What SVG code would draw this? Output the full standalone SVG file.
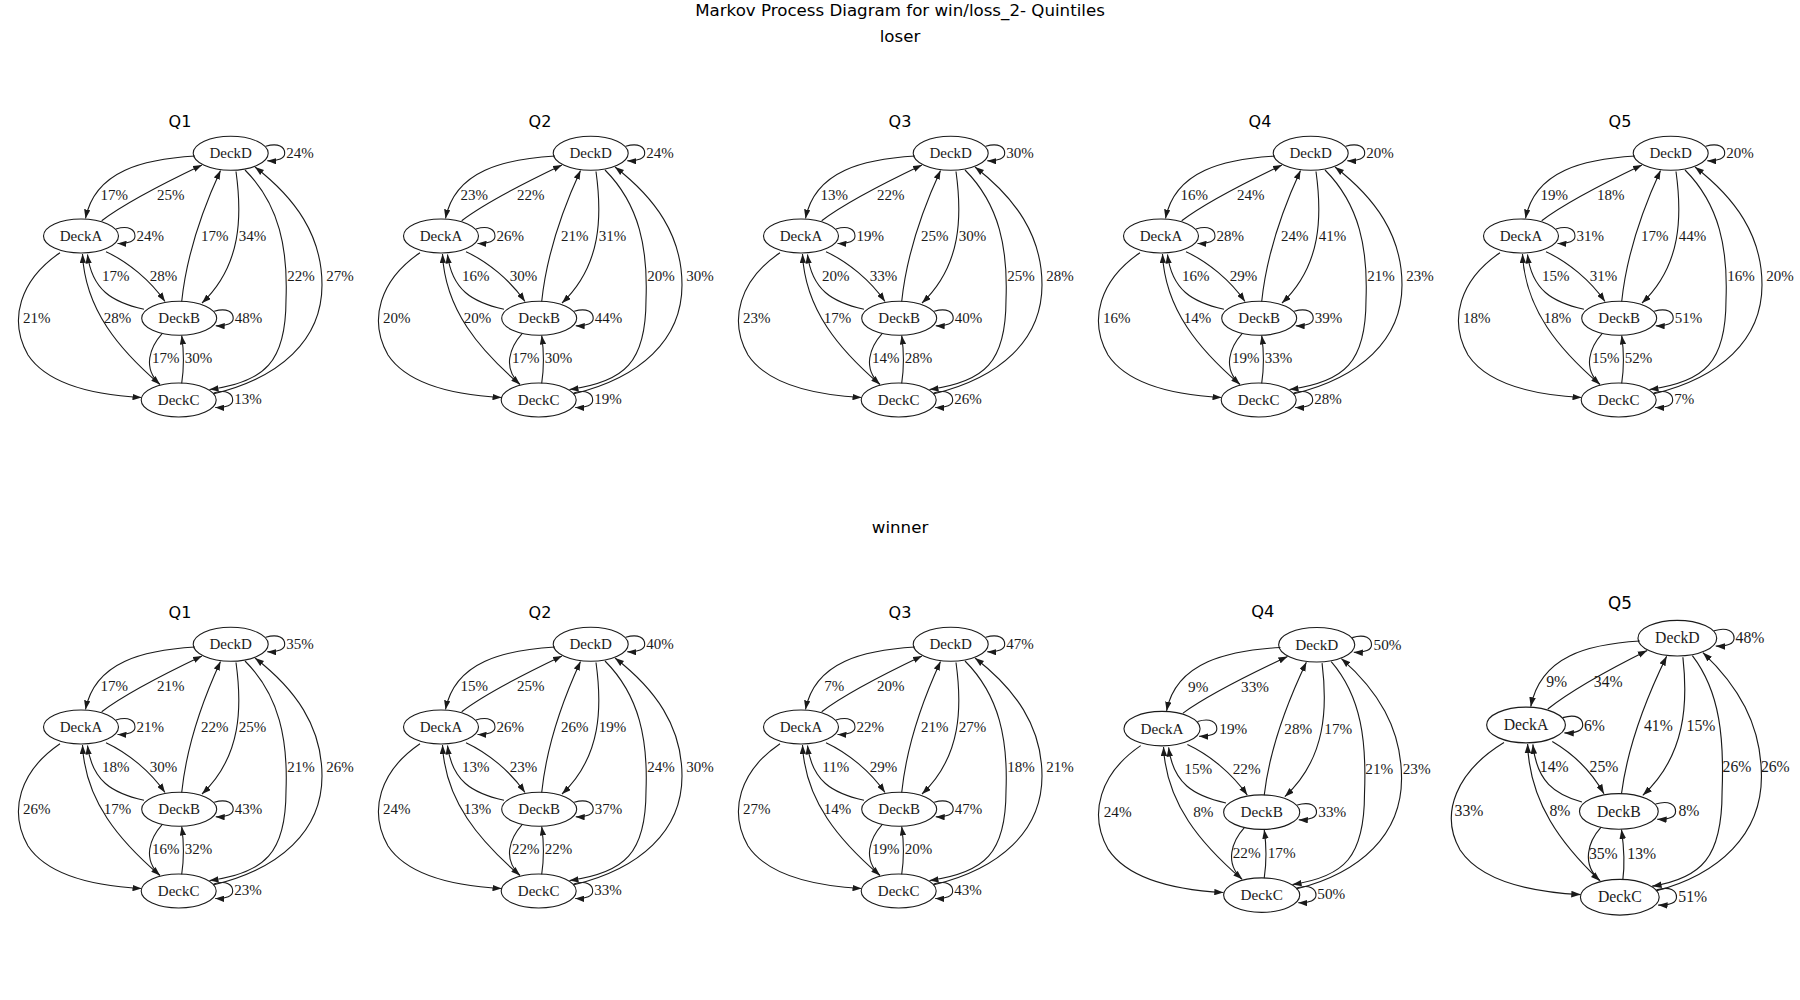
<svg xmlns="http://www.w3.org/2000/svg" width="1800" height="1000" viewBox="0 0 1800 1000">
<style>
.e{fill:none;stroke:#1a1a1a;stroke-width:1.1;marker-end:url(#ah)}
.node ellipse{fill:none;stroke:#1a1a1a;stroke-width:1.1}
.lb{font-family:"Liberation Serif","Times New Roman",serif;font-size:15px;fill:#1a1a1a;text-anchor:middle}
.ll{font-family:"Liberation Serif","Times New Roman",serif;font-size:15px;fill:#1a1a1a;text-anchor:start}
.qt{font-family:"DejaVu Sans",sans-serif;font-size:16px;fill:#000;text-anchor:middle}
.st{font-family:"DejaVu Sans",sans-serif;font-size:16.67px;fill:#000;text-anchor:middle}
</style>
<defs>
<marker id="ah" viewBox="0 0 10 7" refX="10" refY="3.5" markerWidth="9" markerHeight="6.5" markerUnits="userSpaceOnUse" orient="auto"><path d="M0,0 L10,3.5 L0,7z" fill="#1a1a1a"/></marker>
</defs>
<rect width="1800" height="1000" fill="#fff"/>
<text class="st" x="900" y="16">Markov Process Diagram for win/loss_2- Quintiles</text>
<text class="st" x="900" y="42">loser</text>
<text class="st" x="900" y="533">winner</text>

<g id="loser-q1" transform="translate(0,0)">
<text class="qt" x="180" y="127">Q1</text>
<g class="connectors">
<path class="e" d="M195,156 C145,159 95,170 85.5,218.5"/>
<path class="e" d="M101.7,220.7 C125,203 160,185 202,165"/>
<path class="e" d="M265.7,146.3 C278.7,142.3 284.7,147.3 284.7,153.3 C284.7,158.3 278.7,161.3 267.2,160.8"/>
<path class="e" d="M116,229 C129,225 135,230 135,236 C135,241 129,244 117.5,243.5"/>
<path class="e" d="M106,251.7 C128,262 150,280 165,301.5"/>
<path class="e" d="M144,309.3 C112,302 92,290 87.5,254.5"/>
<path class="e" d="M181.7,301.5 C186,260 200,215 220.5,170.5"/>
<path class="e" d="M236,171.5 C242,215 242,265 202,303"/>
<path class="e" d="M245,170 C280,205 288,250 286,300 C286,362 265,382 209.5,389.5"/>
<path class="e" d="M213,394 C280,378 322,340 322,285 C322,235 295,198 255,167"/>
<path class="e" d="M60,252.7 C20,280 8,320 28,355 C48,385 95,395 141.5,397.5"/>
<path class="e" d="M159.3,384 C120,350 85,310 82.5,254"/>
<path class="e" d="M214.2,311.3 C227.2,307.3 233.2,312.3 233.2,318.3 C233.2,323.3 227.2,326.3 215.7,325.8"/>
<path class="e" d="M162.3,333.3 C150,347 142,368 160,384.5"/>
<path class="e" d="M181.7,383.3 C184,368 184,352 181.7,335.5"/>
<path class="e" d="M213.7,393 C226.7,389 232.7,394 232.7,400 C232.7,405 226.7,408 215.2,407.5"/>
<text class="lb" x="114.2" y="200">17%</text>
<text class="lb" x="170.8" y="200">25%</text>
<text class="ll" x="286.2" y="158.3">24%</text>
<text class="ll" x="136.5" y="241.3">24%</text>
<text class="lb" x="163.5" y="281">28%</text>
<text class="lb" x="115.8" y="281">17%</text>
<text class="lb" x="214.7" y="241.3">17%</text>
<text class="lb" x="252.5" y="241.3">34%</text>
<text class="lb" x="301" y="281">22%</text>
<text class="lb" x="340" y="281">27%</text>
<text class="lb" x="36.8" y="322.7">21%</text>
<text class="lb" x="117.5" y="322.7">28%</text>
<text class="ll" x="234.7" y="322.7">48%</text>
<text class="lb" x="165.8" y="363.3">17%</text>
<text class="lb" x="198.5" y="363.3">30%</text>
<text class="ll" x="234.2" y="404.3">13%</text>
</g>
<g id="loser-q1-deckD" class="node"><ellipse cx="230.7" cy="153.3" rx="37.5" ry="17"/><text class="lb" x="230.7" y="158.3">DeckD</text></g>
<g id="loser-q1-deckA" class="node"><ellipse cx="81" cy="236" rx="37.5" ry="17"/><text class="lb" x="81" y="241">DeckA</text></g>
<g id="loser-q1-deckB" class="node"><ellipse cx="179.2" cy="318.3" rx="37.5" ry="17"/><text class="lb" x="179.2" y="323.3">DeckB</text></g>
<g id="loser-q1-deckC" class="node"><ellipse cx="178.7" cy="400" rx="37.5" ry="17"/><text class="lb" x="178.7" y="405">DeckC</text></g>
</g>

<g id="loser-q2" transform="translate(360,0)">
<text class="qt" x="180" y="127">Q2</text>
<g class="connectors">
<path class="e" d="M195,156 C145,159 95,170 85.5,218.5"/>
<path class="e" d="M101.7,220.7 C125,203 160,185 202,165"/>
<path class="e" d="M265.7,146.3 C278.7,142.3 284.7,147.3 284.7,153.3 C284.7,158.3 278.7,161.3 267.2,160.8"/>
<path class="e" d="M116,229 C129,225 135,230 135,236 C135,241 129,244 117.5,243.5"/>
<path class="e" d="M106,251.7 C128,262 150,280 165,301.5"/>
<path class="e" d="M144,309.3 C112,302 92,290 87.5,254.5"/>
<path class="e" d="M181.7,301.5 C186,260 200,215 220.5,170.5"/>
<path class="e" d="M236,171.5 C242,215 242,265 202,303"/>
<path class="e" d="M245,170 C280,205 288,250 286,300 C286,362 265,382 209.5,389.5"/>
<path class="e" d="M213,394 C280,378 322,340 322,285 C322,235 295,198 255,167"/>
<path class="e" d="M60,252.7 C20,280 8,320 28,355 C48,385 95,395 141.5,397.5"/>
<path class="e" d="M159.3,384 C120,350 85,310 82.5,254"/>
<path class="e" d="M214.2,311.3 C227.2,307.3 233.2,312.3 233.2,318.3 C233.2,323.3 227.2,326.3 215.7,325.8"/>
<path class="e" d="M162.3,333.3 C150,347 142,368 160,384.5"/>
<path class="e" d="M181.7,383.3 C184,368 184,352 181.7,335.5"/>
<path class="e" d="M213.7,393 C226.7,389 232.7,394 232.7,400 C232.7,405 226.7,408 215.2,407.5"/>
<text class="lb" x="114.2" y="200">23%</text>
<text class="lb" x="170.8" y="200">22%</text>
<text class="ll" x="286.2" y="158.3">24%</text>
<text class="ll" x="136.5" y="241.3">26%</text>
<text class="lb" x="163.5" y="281">30%</text>
<text class="lb" x="115.8" y="281">16%</text>
<text class="lb" x="214.7" y="241.3">21%</text>
<text class="lb" x="252.5" y="241.3">31%</text>
<text class="lb" x="301" y="281">20%</text>
<text class="lb" x="340" y="281">30%</text>
<text class="lb" x="36.8" y="322.7">20%</text>
<text class="lb" x="117.5" y="322.7">20%</text>
<text class="ll" x="234.7" y="322.7">44%</text>
<text class="lb" x="165.8" y="363.3">17%</text>
<text class="lb" x="198.5" y="363.3">30%</text>
<text class="ll" x="234.2" y="404.3">19%</text>
</g>
<g id="loser-q2-deckD" class="node"><ellipse cx="230.7" cy="153.3" rx="37.5" ry="17"/><text class="lb" x="230.7" y="158.3">DeckD</text></g>
<g id="loser-q2-deckA" class="node"><ellipse cx="81" cy="236" rx="37.5" ry="17"/><text class="lb" x="81" y="241">DeckA</text></g>
<g id="loser-q2-deckB" class="node"><ellipse cx="179.2" cy="318.3" rx="37.5" ry="17"/><text class="lb" x="179.2" y="323.3">DeckB</text></g>
<g id="loser-q2-deckC" class="node"><ellipse cx="178.7" cy="400" rx="37.5" ry="17"/><text class="lb" x="178.7" y="405">DeckC</text></g>
</g>

<g id="loser-q3" transform="translate(720,0)">
<text class="qt" x="180" y="127">Q3</text>
<g class="connectors">
<path class="e" d="M195,156 C145,159 95,170 85.5,218.5"/>
<path class="e" d="M101.7,220.7 C125,203 160,185 202,165"/>
<path class="e" d="M265.7,146.3 C278.7,142.3 284.7,147.3 284.7,153.3 C284.7,158.3 278.7,161.3 267.2,160.8"/>
<path class="e" d="M116,229 C129,225 135,230 135,236 C135,241 129,244 117.5,243.5"/>
<path class="e" d="M106,251.7 C128,262 150,280 165,301.5"/>
<path class="e" d="M144,309.3 C112,302 92,290 87.5,254.5"/>
<path class="e" d="M181.7,301.5 C186,260 200,215 220.5,170.5"/>
<path class="e" d="M236,171.5 C242,215 242,265 202,303"/>
<path class="e" d="M245,170 C280,205 288,250 286,300 C286,362 265,382 209.5,389.5"/>
<path class="e" d="M213,394 C280,378 322,340 322,285 C322,235 295,198 255,167"/>
<path class="e" d="M60,252.7 C20,280 8,320 28,355 C48,385 95,395 141.5,397.5"/>
<path class="e" d="M159.3,384 C120,350 85,310 82.5,254"/>
<path class="e" d="M214.2,311.3 C227.2,307.3 233.2,312.3 233.2,318.3 C233.2,323.3 227.2,326.3 215.7,325.8"/>
<path class="e" d="M162.3,333.3 C150,347 142,368 160,384.5"/>
<path class="e" d="M181.7,383.3 C184,368 184,352 181.7,335.5"/>
<path class="e" d="M213.7,393 C226.7,389 232.7,394 232.7,400 C232.7,405 226.7,408 215.2,407.5"/>
<text class="lb" x="114.2" y="200">13%</text>
<text class="lb" x="170.8" y="200">22%</text>
<text class="ll" x="286.2" y="158.3">30%</text>
<text class="ll" x="136.5" y="241.3">19%</text>
<text class="lb" x="163.5" y="281">33%</text>
<text class="lb" x="115.8" y="281">20%</text>
<text class="lb" x="214.7" y="241.3">25%</text>
<text class="lb" x="252.5" y="241.3">30%</text>
<text class="lb" x="301" y="281">25%</text>
<text class="lb" x="340" y="281">28%</text>
<text class="lb" x="36.8" y="322.7">23%</text>
<text class="lb" x="117.5" y="322.7">17%</text>
<text class="ll" x="234.7" y="322.7">40%</text>
<text class="lb" x="165.8" y="363.3">14%</text>
<text class="lb" x="198.5" y="363.3">28%</text>
<text class="ll" x="234.2" y="404.3">26%</text>
</g>
<g id="loser-q3-deckD" class="node"><ellipse cx="230.7" cy="153.3" rx="37.5" ry="17"/><text class="lb" x="230.7" y="158.3">DeckD</text></g>
<g id="loser-q3-deckA" class="node"><ellipse cx="81" cy="236" rx="37.5" ry="17"/><text class="lb" x="81" y="241">DeckA</text></g>
<g id="loser-q3-deckB" class="node"><ellipse cx="179.2" cy="318.3" rx="37.5" ry="17"/><text class="lb" x="179.2" y="323.3">DeckB</text></g>
<g id="loser-q3-deckC" class="node"><ellipse cx="178.7" cy="400" rx="37.5" ry="17"/><text class="lb" x="178.7" y="405">DeckC</text></g>
</g>

<g id="loser-q4" transform="translate(1080,0)">
<text class="qt" x="180" y="127">Q4</text>
<g class="connectors">
<path class="e" d="M195,156 C145,159 95,170 85.5,218.5"/>
<path class="e" d="M101.7,220.7 C125,203 160,185 202,165"/>
<path class="e" d="M265.7,146.3 C278.7,142.3 284.7,147.3 284.7,153.3 C284.7,158.3 278.7,161.3 267.2,160.8"/>
<path class="e" d="M116,229 C129,225 135,230 135,236 C135,241 129,244 117.5,243.5"/>
<path class="e" d="M106,251.7 C128,262 150,280 165,301.5"/>
<path class="e" d="M144,309.3 C112,302 92,290 87.5,254.5"/>
<path class="e" d="M181.7,301.5 C186,260 200,215 220.5,170.5"/>
<path class="e" d="M236,171.5 C242,215 242,265 202,303"/>
<path class="e" d="M245,170 C280,205 288,250 286,300 C286,362 265,382 209.5,389.5"/>
<path class="e" d="M213,394 C280,378 322,340 322,285 C322,235 295,198 255,167"/>
<path class="e" d="M60,252.7 C20,280 8,320 28,355 C48,385 95,395 141.5,397.5"/>
<path class="e" d="M159.3,384 C120,350 85,310 82.5,254"/>
<path class="e" d="M214.2,311.3 C227.2,307.3 233.2,312.3 233.2,318.3 C233.2,323.3 227.2,326.3 215.7,325.8"/>
<path class="e" d="M162.3,333.3 C150,347 142,368 160,384.5"/>
<path class="e" d="M181.7,383.3 C184,368 184,352 181.7,335.5"/>
<path class="e" d="M213.7,393 C226.7,389 232.7,394 232.7,400 C232.7,405 226.7,408 215.2,407.5"/>
<text class="lb" x="114.2" y="200">16%</text>
<text class="lb" x="170.8" y="200">24%</text>
<text class="ll" x="286.2" y="158.3">20%</text>
<text class="ll" x="136.5" y="241.3">28%</text>
<text class="lb" x="163.5" y="281">29%</text>
<text class="lb" x="115.8" y="281">16%</text>
<text class="lb" x="214.7" y="241.3">24%</text>
<text class="lb" x="252.5" y="241.3">41%</text>
<text class="lb" x="301" y="281">21%</text>
<text class="lb" x="340" y="281">23%</text>
<text class="lb" x="36.8" y="322.7">16%</text>
<text class="lb" x="117.5" y="322.7">14%</text>
<text class="ll" x="234.7" y="322.7">39%</text>
<text class="lb" x="165.8" y="363.3">19%</text>
<text class="lb" x="198.5" y="363.3">33%</text>
<text class="ll" x="234.2" y="404.3">28%</text>
</g>
<g id="loser-q4-deckD" class="node"><ellipse cx="230.7" cy="153.3" rx="37.5" ry="17"/><text class="lb" x="230.7" y="158.3">DeckD</text></g>
<g id="loser-q4-deckA" class="node"><ellipse cx="81" cy="236" rx="37.5" ry="17"/><text class="lb" x="81" y="241">DeckA</text></g>
<g id="loser-q4-deckB" class="node"><ellipse cx="179.2" cy="318.3" rx="37.5" ry="17"/><text class="lb" x="179.2" y="323.3">DeckB</text></g>
<g id="loser-q4-deckC" class="node"><ellipse cx="178.7" cy="400" rx="37.5" ry="17"/><text class="lb" x="178.7" y="405">DeckC</text></g>
</g>

<g id="loser-q5" transform="translate(1440,0)">
<text class="qt" x="180" y="127">Q5</text>
<g class="connectors">
<path class="e" d="M195,156 C145,159 95,170 85.5,218.5"/>
<path class="e" d="M101.7,220.7 C125,203 160,185 202,165"/>
<path class="e" d="M265.7,146.3 C278.7,142.3 284.7,147.3 284.7,153.3 C284.7,158.3 278.7,161.3 267.2,160.8"/>
<path class="e" d="M116,229 C129,225 135,230 135,236 C135,241 129,244 117.5,243.5"/>
<path class="e" d="M106,251.7 C128,262 150,280 165,301.5"/>
<path class="e" d="M144,309.3 C112,302 92,290 87.5,254.5"/>
<path class="e" d="M181.7,301.5 C186,260 200,215 220.5,170.5"/>
<path class="e" d="M236,171.5 C242,215 242,265 202,303"/>
<path class="e" d="M245,170 C280,205 288,250 286,300 C286,362 265,382 209.5,389.5"/>
<path class="e" d="M213,394 C280,378 322,340 322,285 C322,235 295,198 255,167"/>
<path class="e" d="M60,252.7 C20,280 8,320 28,355 C48,385 95,395 141.5,397.5"/>
<path class="e" d="M159.3,384 C120,350 85,310 82.5,254"/>
<path class="e" d="M214.2,311.3 C227.2,307.3 233.2,312.3 233.2,318.3 C233.2,323.3 227.2,326.3 215.7,325.8"/>
<path class="e" d="M162.3,333.3 C150,347 142,368 160,384.5"/>
<path class="e" d="M181.7,383.3 C184,368 184,352 181.7,335.5"/>
<path class="e" d="M213.7,393 C226.7,389 232.7,394 232.7,400 C232.7,405 226.7,408 215.2,407.5"/>
<text class="lb" x="114.2" y="200">19%</text>
<text class="lb" x="170.8" y="200">18%</text>
<text class="ll" x="286.2" y="158.3">20%</text>
<text class="ll" x="136.5" y="241.3">31%</text>
<text class="lb" x="163.5" y="281">31%</text>
<text class="lb" x="115.8" y="281">15%</text>
<text class="lb" x="214.7" y="241.3">17%</text>
<text class="lb" x="252.5" y="241.3">44%</text>
<text class="lb" x="301" y="281">16%</text>
<text class="lb" x="340" y="281">20%</text>
<text class="lb" x="36.8" y="322.7">18%</text>
<text class="lb" x="117.5" y="322.7">18%</text>
<text class="ll" x="234.7" y="322.7">51%</text>
<text class="lb" x="165.8" y="363.3">15%</text>
<text class="lb" x="198.5" y="363.3">52%</text>
<text class="ll" x="234.2" y="404.3">7%</text>
</g>
<g id="loser-q5-deckD" class="node"><ellipse cx="230.7" cy="153.3" rx="37.5" ry="17"/><text class="lb" x="230.7" y="158.3">DeckD</text></g>
<g id="loser-q5-deckA" class="node"><ellipse cx="81" cy="236" rx="37.5" ry="17"/><text class="lb" x="81" y="241">DeckA</text></g>
<g id="loser-q5-deckB" class="node"><ellipse cx="179.2" cy="318.3" rx="37.5" ry="17"/><text class="lb" x="179.2" y="323.3">DeckB</text></g>
<g id="loser-q5-deckC" class="node"><ellipse cx="178.7" cy="400" rx="37.5" ry="17"/><text class="lb" x="178.7" y="405">DeckC</text></g>
</g>

<g id="winner-q1" transform="translate(0,491)">
<text class="qt" x="180" y="127">Q1</text>
<g class="connectors">
<path class="e" d="M195,156 C145,159 95,170 85.5,218.5"/>
<path class="e" d="M101.7,220.7 C125,203 160,185 202,165"/>
<path class="e" d="M265.7,146.3 C278.7,142.3 284.7,147.3 284.7,153.3 C284.7,158.3 278.7,161.3 267.2,160.8"/>
<path class="e" d="M116,229 C129,225 135,230 135,236 C135,241 129,244 117.5,243.5"/>
<path class="e" d="M106,251.7 C128,262 150,280 165,301.5"/>
<path class="e" d="M144,309.3 C112,302 92,290 87.5,254.5"/>
<path class="e" d="M181.7,301.5 C186,260 200,215 220.5,170.5"/>
<path class="e" d="M236,171.5 C242,215 242,265 202,303"/>
<path class="e" d="M245,170 C280,205 288,250 286,300 C286,362 265,382 209.5,389.5"/>
<path class="e" d="M213,394 C280,378 322,340 322,285 C322,235 295,198 255,167"/>
<path class="e" d="M60,252.7 C20,280 8,320 28,355 C48,385 95,395 141.5,397.5"/>
<path class="e" d="M159.3,384 C120,350 85,310 82.5,254"/>
<path class="e" d="M214.2,311.3 C227.2,307.3 233.2,312.3 233.2,318.3 C233.2,323.3 227.2,326.3 215.7,325.8"/>
<path class="e" d="M162.3,333.3 C150,347 142,368 160,384.5"/>
<path class="e" d="M181.7,383.3 C184,368 184,352 181.7,335.5"/>
<path class="e" d="M213.7,393 C226.7,389 232.7,394 232.7,400 C232.7,405 226.7,408 215.2,407.5"/>
<text class="lb" x="114.2" y="200">17%</text>
<text class="lb" x="170.8" y="200">21%</text>
<text class="ll" x="286.2" y="158.3">35%</text>
<text class="ll" x="136.5" y="241.3">21%</text>
<text class="lb" x="163.5" y="281">30%</text>
<text class="lb" x="115.8" y="281">18%</text>
<text class="lb" x="214.7" y="241.3">22%</text>
<text class="lb" x="252.5" y="241.3">25%</text>
<text class="lb" x="301" y="281">21%</text>
<text class="lb" x="340" y="281">26%</text>
<text class="lb" x="36.8" y="322.7">26%</text>
<text class="lb" x="117.5" y="322.7">17%</text>
<text class="ll" x="234.7" y="322.7">43%</text>
<text class="lb" x="165.8" y="363.3">16%</text>
<text class="lb" x="198.5" y="363.3">32%</text>
<text class="ll" x="234.2" y="404.3">23%</text>
</g>
<g id="winner-q1-deckD" class="node"><ellipse cx="230.7" cy="153.3" rx="37.5" ry="17"/><text class="lb" x="230.7" y="158.3">DeckD</text></g>
<g id="winner-q1-deckA" class="node"><ellipse cx="81" cy="236" rx="37.5" ry="17"/><text class="lb" x="81" y="241">DeckA</text></g>
<g id="winner-q1-deckB" class="node"><ellipse cx="179.2" cy="318.3" rx="37.5" ry="17"/><text class="lb" x="179.2" y="323.3">DeckB</text></g>
<g id="winner-q1-deckC" class="node"><ellipse cx="178.7" cy="400" rx="37.5" ry="17"/><text class="lb" x="178.7" y="405">DeckC</text></g>
</g>

<g id="winner-q2" transform="translate(360,491)">
<text class="qt" x="180" y="127">Q2</text>
<g class="connectors">
<path class="e" d="M195,156 C145,159 95,170 85.5,218.5"/>
<path class="e" d="M101.7,220.7 C125,203 160,185 202,165"/>
<path class="e" d="M265.7,146.3 C278.7,142.3 284.7,147.3 284.7,153.3 C284.7,158.3 278.7,161.3 267.2,160.8"/>
<path class="e" d="M116,229 C129,225 135,230 135,236 C135,241 129,244 117.5,243.5"/>
<path class="e" d="M106,251.7 C128,262 150,280 165,301.5"/>
<path class="e" d="M144,309.3 C112,302 92,290 87.5,254.5"/>
<path class="e" d="M181.7,301.5 C186,260 200,215 220.5,170.5"/>
<path class="e" d="M236,171.5 C242,215 242,265 202,303"/>
<path class="e" d="M245,170 C280,205 288,250 286,300 C286,362 265,382 209.5,389.5"/>
<path class="e" d="M213,394 C280,378 322,340 322,285 C322,235 295,198 255,167"/>
<path class="e" d="M60,252.7 C20,280 8,320 28,355 C48,385 95,395 141.5,397.5"/>
<path class="e" d="M159.3,384 C120,350 85,310 82.5,254"/>
<path class="e" d="M214.2,311.3 C227.2,307.3 233.2,312.3 233.2,318.3 C233.2,323.3 227.2,326.3 215.7,325.8"/>
<path class="e" d="M162.3,333.3 C150,347 142,368 160,384.5"/>
<path class="e" d="M181.7,383.3 C184,368 184,352 181.7,335.5"/>
<path class="e" d="M213.7,393 C226.7,389 232.7,394 232.7,400 C232.7,405 226.7,408 215.2,407.5"/>
<text class="lb" x="114.2" y="200">15%</text>
<text class="lb" x="170.8" y="200">25%</text>
<text class="ll" x="286.2" y="158.3">40%</text>
<text class="ll" x="136.5" y="241.3">26%</text>
<text class="lb" x="163.5" y="281">23%</text>
<text class="lb" x="115.8" y="281">13%</text>
<text class="lb" x="214.7" y="241.3">26%</text>
<text class="lb" x="252.5" y="241.3">19%</text>
<text class="lb" x="301" y="281">24%</text>
<text class="lb" x="340" y="281">30%</text>
<text class="lb" x="36.8" y="322.7">24%</text>
<text class="lb" x="117.5" y="322.7">13%</text>
<text class="ll" x="234.7" y="322.7">37%</text>
<text class="lb" x="165.8" y="363.3">22%</text>
<text class="lb" x="198.5" y="363.3">22%</text>
<text class="ll" x="234.2" y="404.3">33%</text>
</g>
<g id="winner-q2-deckD" class="node"><ellipse cx="230.7" cy="153.3" rx="37.5" ry="17"/><text class="lb" x="230.7" y="158.3">DeckD</text></g>
<g id="winner-q2-deckA" class="node"><ellipse cx="81" cy="236" rx="37.5" ry="17"/><text class="lb" x="81" y="241">DeckA</text></g>
<g id="winner-q2-deckB" class="node"><ellipse cx="179.2" cy="318.3" rx="37.5" ry="17"/><text class="lb" x="179.2" y="323.3">DeckB</text></g>
<g id="winner-q2-deckC" class="node"><ellipse cx="178.7" cy="400" rx="37.5" ry="17"/><text class="lb" x="178.7" y="405">DeckC</text></g>
</g>

<g id="winner-q3" transform="translate(720,491)">
<text class="qt" x="180" y="127">Q3</text>
<g class="connectors">
<path class="e" d="M195,156 C145,159 95,170 85.5,218.5"/>
<path class="e" d="M101.7,220.7 C125,203 160,185 202,165"/>
<path class="e" d="M265.7,146.3 C278.7,142.3 284.7,147.3 284.7,153.3 C284.7,158.3 278.7,161.3 267.2,160.8"/>
<path class="e" d="M116,229 C129,225 135,230 135,236 C135,241 129,244 117.5,243.5"/>
<path class="e" d="M106,251.7 C128,262 150,280 165,301.5"/>
<path class="e" d="M144,309.3 C112,302 92,290 87.5,254.5"/>
<path class="e" d="M181.7,301.5 C186,260 200,215 220.5,170.5"/>
<path class="e" d="M236,171.5 C242,215 242,265 202,303"/>
<path class="e" d="M245,170 C280,205 288,250 286,300 C286,362 265,382 209.5,389.5"/>
<path class="e" d="M213,394 C280,378 322,340 322,285 C322,235 295,198 255,167"/>
<path class="e" d="M60,252.7 C20,280 8,320 28,355 C48,385 95,395 141.5,397.5"/>
<path class="e" d="M159.3,384 C120,350 85,310 82.5,254"/>
<path class="e" d="M214.2,311.3 C227.2,307.3 233.2,312.3 233.2,318.3 C233.2,323.3 227.2,326.3 215.7,325.8"/>
<path class="e" d="M162.3,333.3 C150,347 142,368 160,384.5"/>
<path class="e" d="M181.7,383.3 C184,368 184,352 181.7,335.5"/>
<path class="e" d="M213.7,393 C226.7,389 232.7,394 232.7,400 C232.7,405 226.7,408 215.2,407.5"/>
<text class="lb" x="114.2" y="200">7%</text>
<text class="lb" x="170.8" y="200">20%</text>
<text class="ll" x="286.2" y="158.3">47%</text>
<text class="ll" x="136.5" y="241.3">22%</text>
<text class="lb" x="163.5" y="281">29%</text>
<text class="lb" x="115.8" y="281">11%</text>
<text class="lb" x="214.7" y="241.3">21%</text>
<text class="lb" x="252.5" y="241.3">27%</text>
<text class="lb" x="301" y="281">18%</text>
<text class="lb" x="340" y="281">21%</text>
<text class="lb" x="36.8" y="322.7">27%</text>
<text class="lb" x="117.5" y="322.7">14%</text>
<text class="ll" x="234.7" y="322.7">47%</text>
<text class="lb" x="165.8" y="363.3">19%</text>
<text class="lb" x="198.5" y="363.3">20%</text>
<text class="ll" x="234.2" y="404.3">43%</text>
</g>
<g id="winner-q3-deckD" class="node"><ellipse cx="230.7" cy="153.3" rx="37.5" ry="17"/><text class="lb" x="230.7" y="158.3">DeckD</text></g>
<g id="winner-q3-deckA" class="node"><ellipse cx="81" cy="236" rx="37.5" ry="17"/><text class="lb" x="81" y="241">DeckA</text></g>
<g id="winner-q3-deckB" class="node"><ellipse cx="179.2" cy="318.3" rx="37.5" ry="17"/><text class="lb" x="179.2" y="323.3">DeckB</text></g>
<g id="winner-q3-deckC" class="node"><ellipse cx="178.7" cy="400" rx="37.5" ry="17"/><text class="lb" x="178.7" y="405">DeckC</text></g>
</g>

<g id="winner-q4" transform="translate(1079.8,489.1) scale(1.015)">
<text class="qt" x="180.3" y="125.7">Q4</text>
<g class="connectors">
<path class="e" d="M197.7,156 C147,159 95,170 85.5,218.5"/>
<path class="e" d="M101.7,220.7 C126,203 162,185 204.7,165"/>
<path class="e" d="M268.4,146.3 C281.4,142.3 287.4,147.3 287.4,153.3 C287.4,158.3 281.4,161.3 269.9,160.8"/>
<path class="e" d="M116,229 C129,225 135,230 135,236 C135,241 129,244 117.5,243.5"/>
<path class="e" d="M106,251.7 C128,262 150,280 165,301.5"/>
<path class="e" d="M144,309.3 C112,302 92,290 87.5,254.5"/>
<path class="e" d="M181.7,301.5 C186.5,260 202,215 223.2,170.5"/>
<path class="e" d="M238.7,171.5 C244,215 243,265 202,303"/>
<path class="e" d="M247.7,170 C278,205 282.5,250 280.5,300 C280.5,362 261,382 209.5,389.5"/>
<path class="e" d="M213,394 C277,378 317,340 317,285 C317,235 293,198 257.7,167"/>
<path class="e" d="M60,252.7 C20,280 8,320 28,355 C48,385 95,395 141.5,397.5"/>
<path class="e" d="M159.3,384 C120,350 85,310 82.5,254"/>
<path class="e" d="M214.2,311.3 C227.2,307.3 233.2,312.3 233.2,318.3 C233.2,323.3 227.2,326.3 215.7,325.8"/>
<path class="e" d="M162.3,333.3 C150,347 142,368 160,384.5"/>
<path class="e" d="M181.7,383.3 C184,368 184,352 181.7,335.5"/>
<path class="e" d="M213.7,393 C226.7,389 232.7,394 232.7,400 C232.7,405 226.7,408 215.2,407.5"/>
<text class="lb" x="116.7" y="200">9%</text>
<text class="lb" x="172.6" y="200">33%</text>
<text class="ll" x="289.4" y="158.3">50%</text>
<text class="ll" x="137.5" y="241.3">19%</text>
<text class="lb" x="164.4" y="281">22%</text>
<text class="lb" x="116.7" y="281">15%</text>
<text class="lb" x="215.3" y="241.3">28%</text>
<text class="lb" x="254.7" y="241.3">17%</text>
<text class="lb" x="295.1" y="281">21%</text>
<text class="lb" x="331.9" y="281">23%</text>
<text class="lb" x="37.3" y="322.7">24%</text>
<text class="lb" x="121.7" y="322.7">8%</text>
<text class="ll" x="235" y="322.7">33%</text>
<text class="lb" x="164.4" y="363.3">22%</text>
<text class="lb" x="198.9" y="363.3">17%</text>
<text class="ll" x="234" y="404.3">50%</text>
</g>
<g id="winner-q4-deckD" class="node"><ellipse cx="233.4" cy="153.3" rx="37.5" ry="17"/><text class="lb" x="233.4" y="158.3">DeckD</text></g>
<g id="winner-q4-deckA" class="node"><ellipse cx="81" cy="236" rx="37.5" ry="17"/><text class="lb" x="81" y="241">DeckA</text></g>
<g id="winner-q4-deckB" class="node"><ellipse cx="179.2" cy="318.3" rx="37.5" ry="17"/><text class="lb" x="179.2" y="323.3">DeckB</text></g>
<g id="winner-q4-deckC" class="node"><ellipse cx="179.2" cy="400" rx="37.5" ry="17"/><text class="lb" x="179.2" y="405">DeckC</text></g>
</g>

<g id="winner-q5" transform="translate(1430.7,477.2) scale(1.05)">
<text class="qt" x="180.3" y="125.5">Q5</text>
<g class="connectors">
<path class="e" d="M199.2,156 C150,159 104.8,170 95.3,218.5"/>
<path class="e" d="M111.5,220.7 C134,203 166,185 206.2,165"/>
<path class="e" d="M269.9,146.3 C282.9,142.3 288.9,147.3 288.9,153.3 C288.9,158.3 282.9,161.3 271.4,160.8"/>
<path class="e" d="M125.8,229 C138.8,225 144.8,230 144.8,236 C144.8,241 138.8,244 127.3,243.5"/>
<path class="e" d="M115.8,251.7 C135,263 153,280 165,301.5"/>
<path class="e" d="M144,309.3 C118,302 101,290 97.3,254.5"/>
<path class="e" d="M181.7,301.5 C187,260 203,215 224.7,170.5"/>
<path class="e" d="M240.2,171.5 C245,215 243,265 202,303"/>
<path class="e" d="M249.2,170 C276,205 279.5,250 277.5,300 C277.5,362 258,382 210.9,389.5"/>
<path class="e" d="M214.4,394 C275,378 315,340 315,285 C315,235 292,198 259.2,167"/>
<path class="e" d="M69.8,252.7 C25,280 8,320 28,355 C48,385 95,395 142.9,397.5"/>
<path class="e" d="M160.7,384 C125,350 94,310 92.3,254"/>
<path class="e" d="M214.2,311.3 C227.2,307.3 233.2,312.3 233.2,318.3 C233.2,323.3 227.2,326.3 215.7,325.8"/>
<path class="e" d="M162.3,333.3 C150,347 143,368 161.4,384.5"/>
<path class="e" d="M183,383.3 C185,368 184,352 181.7,335.5"/>
<path class="e" d="M215.1,393 C228.1,389 234.1,394 234.1,400 C234.1,405 228.1,408 216.6,407.5"/>
<text class="lb" x="120" y="200">9%</text>
<text class="lb" x="169.1" y="200">34%</text>
<text class="ll" x="290.4" y="158.3">48%</text>
<text class="ll" x="146" y="241.3">6%</text>
<text class="lb" x="165" y="281">25%</text>
<text class="lb" x="117.7" y="281">14%</text>
<text class="lb" x="216.8" y="241.3">41%</text>
<text class="lb" x="257.4" y="241.3">15%</text>
<text class="lb" x="291.7" y="281">26%</text>
<text class="lb" x="328.2" y="281">26%</text>
<text class="lb" x="36.5" y="322.7">33%</text>
<text class="lb" x="123.1" y="322.7">8%</text>
<text class="ll" x="236" y="322.7">8%</text>
<text class="lb" x="164.4" y="363.3">35%</text>
<text class="lb" x="201" y="363.3">13%</text>
<text class="ll" x="235.8" y="404.3">51%</text>
</g>
<g id="winner-q5-deckD" class="node"><ellipse cx="234.9" cy="153.3" rx="37.5" ry="17"/><text class="lb" x="234.9" y="158.3">DeckD</text></g>
<g id="winner-q5-deckA" class="node"><ellipse cx="90.8" cy="236" rx="37.5" ry="17"/><text class="lb" x="90.8" y="241">DeckA</text></g>
<g id="winner-q5-deckB" class="node"><ellipse cx="179.2" cy="318.3" rx="37.5" ry="17"/><text class="lb" x="179.2" y="323.3">DeckB</text></g>
<g id="winner-q5-deckC" class="node"><ellipse cx="180.1" cy="400" rx="37.5" ry="17"/><text class="lb" x="180.1" y="405">DeckC</text></g>
</g>
</svg>
